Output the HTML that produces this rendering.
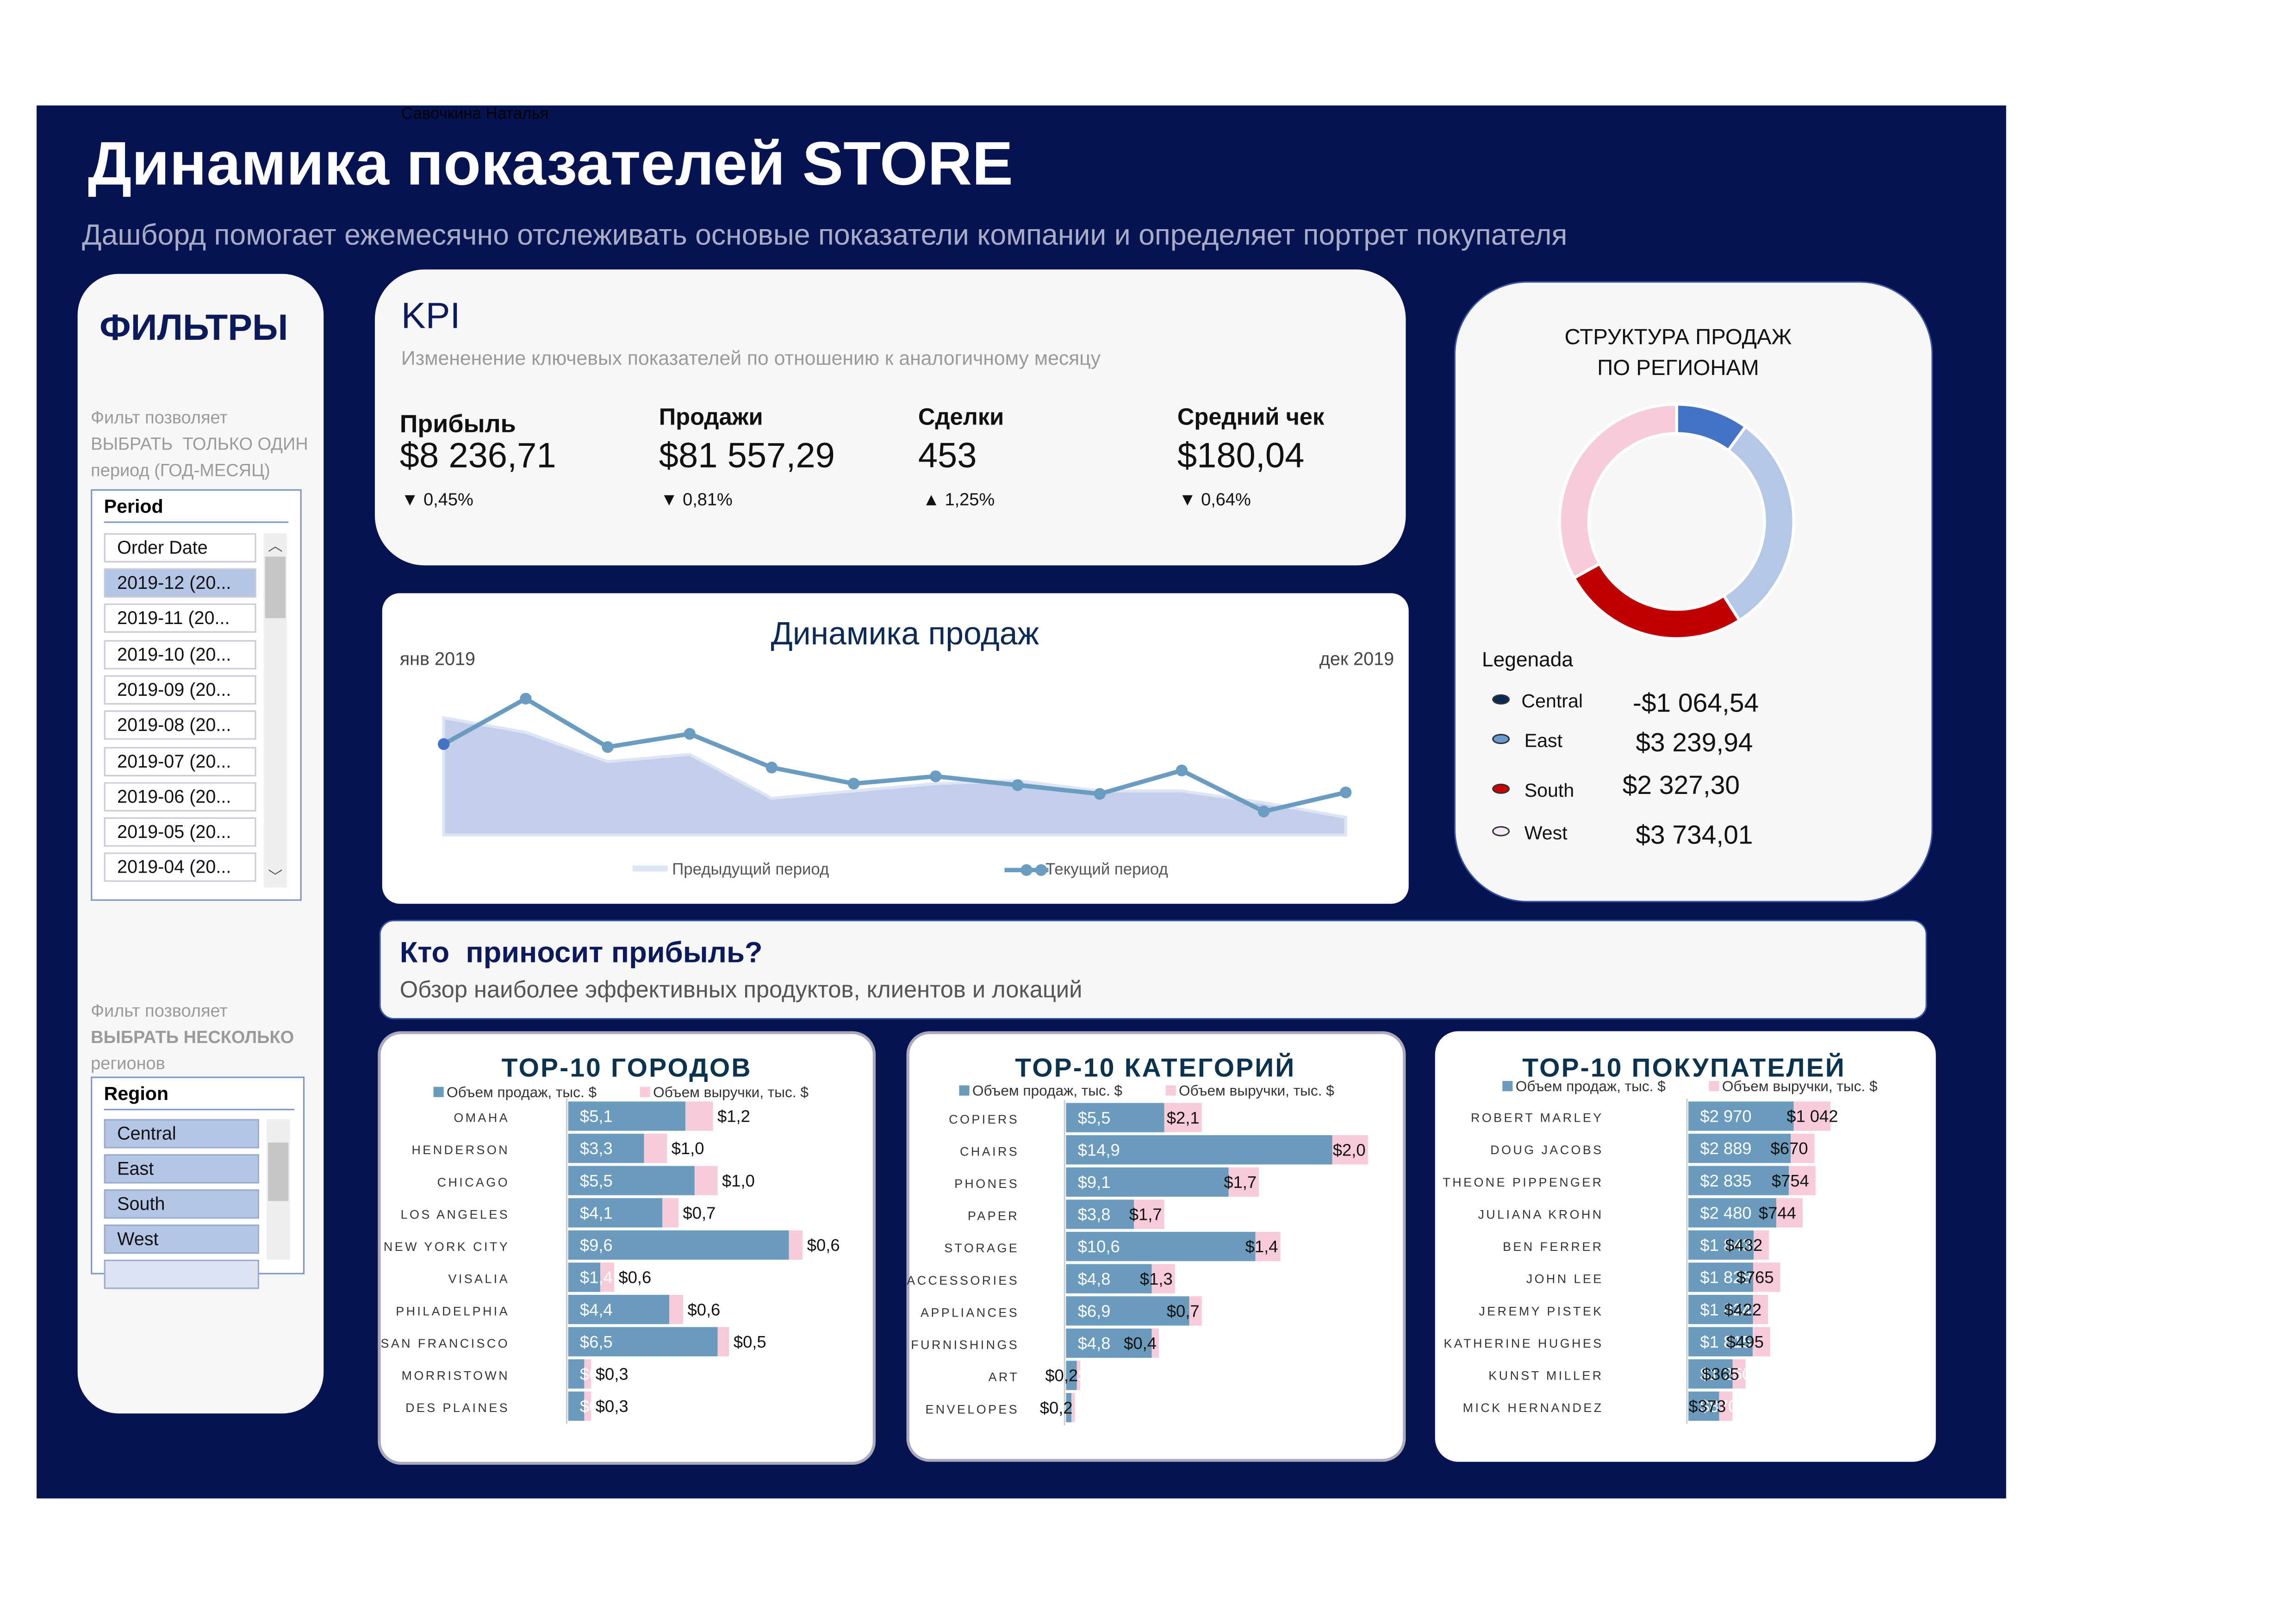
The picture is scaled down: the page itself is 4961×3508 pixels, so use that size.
<!DOCTYPE html>
<html><head><meta charset="utf-8">
<style>
*{box-sizing:border-box;margin:0;padding:0}
body{width:4961px;height:3508px;background:#fff;overflow:hidden;font-family:"Liberation Sans","Noto Sans CJK SC",sans-serif}
#wrap{position:absolute;left:0;top:0;width:1553px;height:1098px;transform:scale(3.164);transform-origin:0 0}
.abs{position:absolute}
.panel{position:absolute;background:#f7f7f7;border-radius:28px}
.lb{position:absolute;left:71px;width:104px;height:20px;border:1px solid #c8cbd8;background:#fff;font-size:12.5px;padding:2px 8px;color:#111}
.lb.sel{background:#b5c5e6}
.rg{position:absolute;left:71px;width:106px;height:20px;background:#b5c5e6;border:1px solid #9aaccc;font-size:12.5px;padding:2px 8px;color:#111}
.kpi-l{position:absolute;font-size:16px;font-weight:bold;color:#111}
.kpi-v{position:absolute;font-size:24px;color:#111}
.kpi-d{position:absolute;font-size:12px;color:#111}
.leg{position:absolute;font-size:13px;color:#111}
.legv{position:absolute;font-size:18px;color:#111}
</style></head>
<body>
<div id="wrap">
<div class="abs" style="left:25px;top:72px;width:1345px;height:951px;background:#061352"></div>
<div class="abs" style="left:274px;top:72px;font-size:11px;color:#000">Савочкина Наталья</div>
<div class="abs" style="left:60px;top:88px;font-size:42px;font-weight:bold;color:#fff">Динамика показателей STORE</div>
<div class="abs" style="left:56px;top:150px;font-size:19.8px;color:#a9adc4">Дашборд помогает ежемесячно отслеживать основые показатели компании и определяет портрет покупателя</div>

<div class="panel" style="left:53px;top:187px;width:168px;height:778px"></div>
<div class="abs" style="left:68px;top:210px;font-size:25px;font-weight:bold;color:#0b1a5c">ФИЛЬТРЫ</div>
<div class="abs" style="left:62px;top:276px;font-size:12px;line-height:18px;color:#9a9a9a">Фильт позволяет<br>ВЫБРАТЬ&nbsp; ТОЛЬКО ОДИН<br>период (ГОД-МЕСЯЦ)</div>
<div class="abs" style="left:62px;top:334px;width:144px;height:281px;border:1px solid #7f95c8;background:#fff"></div>
<div class="abs" style="left:71px;top:338px;width:126px;font-size:13px;font-weight:bold;border-bottom:1px solid #7f95c8;padding-bottom:3px">Period</div>
<div class="lb" style="top:364px">Order Date</div>
<div class="lb sel" style="top:388px">2019-12 (20...</div>
<div class="lb" style="top:412px">2019-11 (20...</div>
<div class="lb" style="top:437px">2019-10 (20...</div>
<div class="lb" style="top:461px">2019-09 (20...</div>
<div class="lb" style="top:485px">2019-08 (20...</div>
<div class="lb" style="top:510px">2019-07 (20...</div>
<div class="lb" style="top:534px">2019-06 (20...</div>
<div class="lb" style="top:558px">2019-05 (20...</div>
<div class="lb" style="top:582px">2019-04 (20...</div>
<div class="abs" style="left:180px;top:364px;width:16px;height:242px;background:#efefef"><div style="margin:16px 1px;height:42px;background:#c6c6c6"></div></div>
<div class="abs" style="left:183px;top:364px;font-size:10px;color:#555">︿</div>
<div class="abs" style="left:183px;top:590px;font-size:10px;color:#555">﹀</div>

<div class="abs" style="left:62px;top:681px;font-size:12px;line-height:18px;color:#9a9a9a">Фильт позволяет<br><b>ВЫБРАТЬ НЕСКОЛЬКО</b><br>регионов</div>
<div class="abs" style="left:62px;top:735px;width:146px;height:135px;border:1px solid #7f95c8;background:#fff"></div>
<div class="abs" style="left:71px;top:739px;width:130px;font-size:13px;font-weight:bold;border-bottom:1px solid #7f95c8;padding-bottom:3px">Region</div>
<div class="rg" style="top:764px">Central</div>
<div class="rg" style="top:788px">East</div>
<div class="rg" style="top:812px">South</div>
<div class="rg" style="top:836px">West</div>
<div class="rg" style="top:860px;background:#dde3f3;height:20px"></div>
<div class="abs" style="left:182px;top:764px;width:16px;height:96px;background:#efefef"><div style="margin:16px 1px;height:40px;background:#c6c6c6"></div></div>

<div class="panel" style="left:256px;top:184px;width:704px;height:202px;border-radius:34px"></div>
<div class="abs" style="left:274px;top:202px;font-size:25px;color:#0b1a5c">KPI</div>
<div class="abs" style="left:274px;top:237px;font-size:13.5px;color:#9a9a9a">Измененение ключевых показателей по отношению к аналогичному месяцу</div>
<div class="kpi-l" style="left:273px;top:280px;font-size:17px">Прибыль</div>
<div class="kpi-v" style="left:273px;top:298px">$8 236,71</div>
<div class="kpi-d" style="left:274px;top:334px">▼ 0,45%</div>
<div class="kpi-l" style="left:450px;top:277px">Продажи</div>
<div class="kpi-v" style="left:450px;top:298px">$81 557,29</div>
<div class="kpi-d" style="left:451px;top:334px">▼ 0,81%</div>
<div class="kpi-l" style="left:627px;top:277px">Сделки</div>
<div class="kpi-v" style="left:627px;top:298px">453</div>
<div class="kpi-d" style="left:630px;top:334px">▲ 1,25%</div>
<div class="kpi-l" style="left:804px;top:277px">Средний чек</div>
<div class="kpi-v" style="left:804px;top:298px">$180,04</div>
<div class="kpi-d" style="left:805px;top:334px">▼ 0,64%</div>

<div class="panel" style="left:993px;top:192px;width:327px;height:424px;border-radius:50px;border:1.5px solid #3b56a4"></div>
<div class="abs" style="left:993px;top:220px;width:306px;text-align:center;font-size:15px;line-height:21px;color:#111">СТРУКТУРА ПРОДАЖ<br>ПО РЕГИОНАМ</div>
<svg class="abs" id="donut" style="left:1045px;top:256px" width="200" height="200"></svg>
<div class="abs" style="left:1012px;top:442px;font-size:14px;color:#111">Legenada</div>
<div class="abs" style="left:1019px;top:474px;width:12px;height:7px;border-radius:50%;background:#0a2a55;border:1px solid #333"></div>
<div class="leg" style="left:1039px;top:471px">Central</div>
<div class="legv" style="left:1115px;top:470px">-$1 064,54</div>
<div class="abs" style="left:1019px;top:501px;width:12px;height:7px;border-radius:50%;background:#6b9bd1;border:1px solid #333"></div>
<div class="leg" style="left:1041px;top:498px">East</div>
<div class="legv" style="left:1117px;top:497px">$3 239,94</div>
<div class="abs" style="left:1019px;top:535px;width:12px;height:7px;border-radius:50%;background:#c00;border:1px solid #333"></div>
<div class="leg" style="left:1041px;top:532px">South</div>
<div class="legv" style="left:1108px;top:526px">$2 327,30</div>
<div class="abs" style="left:1019px;top:564px;width:12px;height:7px;border-radius:50%;background:#f3eaf5;border:1px solid #333"></div>
<div class="leg" style="left:1041px;top:561px">West</div>
<div class="legv" style="left:1117px;top:560px">$3 734,01</div>

<div class="panel" style="left:261px;top:405px;width:701px;height:212px;border-radius:12px;background:#fff"></div>
<svg class="abs" id="line" style="left:261px;top:405px" width="701" height="212"></svg>

<div class="panel" style="left:259px;top:628px;width:1057px;height:68px;border-radius:10px;border:1.5px solid #3b56a4"></div>
<div class="abs" style="left:273px;top:640px;font-size:20px;font-weight:bold;color:#0b1a5c">Кто&nbsp; приносит прибыль?</div>
<div class="abs" style="left:273px;top:668px;font-size:16px;color:#555">Обзор наиболее эффективных продуктов, клиентов и локаций</div>

<div class="panel" style="left:258px;top:704px;width:340px;height:296px;border-radius:16px;background:#fff;border:2px solid #aab"></div>
<div class="panel" style="left:619px;top:704px;width:341px;height:294px;border-radius:16px;background:#fff;border:2px solid #aab"></div>
<div class="panel" style="left:980px;top:704px;width:342px;height:294px;border-radius:16px;background:#fff"></div>
<svg class="abs" id="bars1" style="left:258px;top:704px" width="340" height="296"></svg>
<svg class="abs" id="bars2" style="left:619px;top:704px" width="341" height="294"></svg>
<svg class="abs" id="bars3" style="left:980px;top:704px" width="342" height="294"></svg>
</div>

<script>
const NS="http://www.w3.org/2000/svg";
function mk(p,t,a,txt){const e=document.createElementNS(NS,t);for(const k in a)e.setAttribute(k,a[k]);if(txt!==undefined)e.textContent=txt;p.appendChild(e);return e;}

const regionNames=["Central","East","South","West"];
const regionShares=[10,31,26,33];
const regionColors=["#4472c4","#b4c7e7","#c00000","#f8cbd8"];
const months=["янв","фев","мар","апр","май","июн","июл","авг","сен","окт","ноя","дек"];
const currentSales=[6.2,9.3,6.0,6.9,4.6,3.5,4.0,3.4,2.8,4.4,1.6,2.9];
const previousSales=[8.0,7.0,5.0,5.5,2.5,3.0,3.5,3.7,3.0,3.0,2.2,1.2];
const cityNames=["OMAHA","HENDERSON","CHICAGO","LOS ANGELES","NEW YORK CITY","VISALIA","PHILADELPHIA","SAN FRANCISCO","MORRISTOWN","DES PLAINES"];
const citySales=[5.1,3.3,5.5,4.1,9.6,1.4,4.4,6.5,0.7,0.7];
const cityProfit=[1.2,1.0,1.0,0.7,0.6,0.6,0.6,0.5,0.3,0.3];
const catNames=["COPIERS","CHAIRS","PHONES","PAPER","STORAGE","ACCESSORIES","APPLIANCES","FURNISHINGS","ART","ENVELOPES"];
const catSales=[5.5,14.9,9.1,3.8,10.6,4.8,6.9,4.8,0.6,0.3];
const catProfit=[2.1,2.0,1.7,1.7,1.4,1.3,0.7,0.4,0.2,0.2];
const custNames=["ROBERT MARLEY","DOUG JACOBS","THEONE PIPPENGER","JULIANA KROHN","BEN FERRER","JOHN LEE","JEREMY PISTEK","KATHERINE HUGHES","KUNST MILLER","MICK HERNANDEZ"];
const custSales=[2970,2889,2835,2480,1843,1828,1824,1815,1250,870];
const custProfit=[1042,670,754,744,432,765,422,495,365,373];

(function(){
 const s=document.getElementById('donut');const cx=100,cy=100,R=80,r=60;
 const tot=regionShares.reduce((a,b)=>a+b,0);let a0=-Math.PI/2;
 regionShares.forEach((v,i)=>{const a1=a0+v/tot*2*Math.PI;const L=(a1-a0)>Math.PI?1:0;
  const p=(rr,a)=>[cx+rr*Math.cos(a),cy+rr*Math.sin(a)];
  const [x0,y0]=p(R,a0),[x1,y1]=p(R,a1),[x2,y2]=p(r,a1),[x3,y3]=p(r,a0);
  const e=mk(s,'path',{d:`M${x0},${y0}A${R},${R} 0 ${L} 1 ${x1},${y1}L${x2},${y2}A${r},${r} 0 ${L} 0 ${x3},${y3}Z`,fill:regionColors[i],stroke:'#fff','stroke-width':2});
  
  
  a0=a1;});
})();

(function(){
 const s=document.getElementById('line');
 const x0=42,dx=56,ybase=165,ky=10;
 const X=i=>x0+i*dx,Y=v=>ybase-v*ky;
 const t=mk(s,'text',{x:357,y:35,'text-anchor':'middle','font-size':22,fill:'#0b2a55','font-family':'Liberation Sans'},'Динамика продаж');
 
 const a=mk(s,'text',{x:12,y:49,'font-size':12.5,fill:'#444'},'янв 2019');
 const b=mk(s,'text',{x:691,y:49,'font-size':12.5,fill:'#444','text-anchor':'end'},'дек 2019');
 let d=`M${X(0)},${ybase} `+previousSales.map((v,i)=>`L${X(i)},${Y(v)}`).join(' ')+` L${X(11)},${ybase}Z`;
 const ar=mk(s,'path',{d,fill:'#c3cfea',stroke:'#dde4f3','stroke-width':2});
 
 const ln=mk(s,'polyline',{points:currentSales.map((v,i)=>X(i)+','+Y(v)).join(' '),fill:'none',stroke:'#6a9bc1','stroke-width':3});
 
 currentSales.forEach((v,i)=>{const c=mk(s,'circle',{cx:X(i),cy:Y(v),r:4,fill:i==0?'#4472c4':'#6a9bc1'});
  });
 mk(s,'rect',{x:171,y:186,width:24,height:4,fill:'#dde4f3'});
 const l1=mk(s,'text',{x:198,y:192,'font-size':11,fill:'#555'},'Предыдущий период');
 mk(s,'line',{x1:425,y1:189,x2:455,y2:189,stroke:'#6a9bc1','stroke-width':3});
 mk(s,'circle',{cx:440,cy:189,r:4,fill:'#6a9bc1'});mk(s,'circle',{cx:450,cy:189,r:4,fill:'#6a9bc1'});
 const l2=mk(s,'text',{x:453,y:192,'font-size':11,fill:'#555'},'Текущий период');
})();

function bars(id,title,names,sales,profit,opt){
 const s=document.getElementById(id);
 const tt=mk(s,'text',{x:opt.tx,y:31,'text-anchor':'middle','font-size':18,'font-weight':'bold',fill:'#0b3350','letter-spacing':1},title);
 
 mk(s,'rect',{x:opt.lx,y:opt.ly-7,width:7,height:7,fill:'#6a9bbd'});
 const la=mk(s,'text',{x:opt.lx+9,y:opt.ly,'font-size':10,fill:'#333'},'Объем продаж, тыс. $');
 mk(s,'rect',{x:opt.lx+141,y:opt.ly-7,width:7,height:7,fill:'#f8cbd8'});
 const lb=mk(s,'text',{x:opt.lx+150,y:opt.ly,'font-size':10,fill:'#333'},'Объем выручки, тыс. $');
 const x0=opt.x0,k=opt.k,y0=opt.y0,h=22,bh=20;
 mk(s,'line',{x1:x0-1,y1:y0-2,x2:x0-1,y2:y0+10*h,stroke:'#ccc','stroke-width':1});
 names.forEach((n,i)=>{const y=y0+i*h;
  const w1=sales[i]*k,w2=profit[i]*k;
  const r1=mk(s,'rect',{x:x0,y,width:w1,height:bh,fill:'#6a9bbd'});
  
  const r2=mk(s,'rect',{x:x0+w1,y,width:w2,height:bh,fill:'#f8cbd8'});
  
  const lab=mk(s,'text',{x:x0-opt.gap,y:y+14,'text-anchor':'end','font-size':8.5,fill:'#333','letter-spacing':1.4},n);
  
  const v1=mk(s,'text',{x:x0+8,y:y+14,'font-size':11.5,fill:'#fff'},opt.fmt(sales[i]));
  
  const v2=mk(s,'text',{x:opt.po?x0+w1+w2-opt.po:x0+w1+w2+3,y:y+14,'font-size':11.5,fill:'#111'},opt.fmt(profit[i]));
  
 });
}
const f1=v=>'$'+v.toFixed(1).replace('.',',');
const f3=v=>'$'+String(v).replace(/\B(?=(\d{3})+$)/,' ');
bars('bars1','TOP-10 ГОРОДОВ',cityNames,citySales,cityProfit,{tx:170,lx:38,ly:45,x0:130,k:15.7,y0:48,gap:40,fmt:f1,po:0});
bars('bars2','TOP-10 КАТЕГОРИЙ',catNames,catSales,catProfit,{tx:170,lx:36,ly:44,x0:109,k:12.2,y0:49,gap:32,fmt:f1,po:24});
bars('bars3','TOP-10 ПОКУПАТЕЛЕЙ',custNames,custSales,custProfit,{tx:170,lx:46,ly:41,x0:173,k:0.0242,y0:48,gap:58,fmt:f3,po:30});
</script>
</body></html>
